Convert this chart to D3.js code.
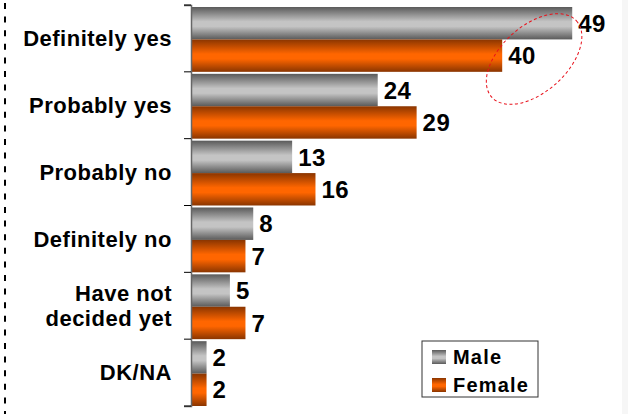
<!DOCTYPE html>
<html>
<head>
<meta charset="utf-8">
<script src="https://cdn.jsdelivr.net/npm/d3@7"></script>
<style>
  body { margin: 0; background: #fff; }
  svg { display: block; font-family: "Liberation Sans", Arial, sans-serif; font-weight: bold; }
</style>
</head>
<body>
<div id="chart"></div>
<script>
var categories = ["Definitely yes", "Probably yes", "Probably no", "Definitely no", "Have not decided yet", "DK/NA"];
var male = [49, 24, 13, 8, 5, 2];
var female = [40, 29, 16, 7, 7, 2];
var seriesNames = ["Male", "Female"];
var labelLines = { "Have not decided yet": ["Have not", "decided yet"] };

var width = 628, height = 414;
var svg = d3.select("#chart").append("svg").attr("width", width).attr("height", height);

var defs = svg.append("defs");
function barGrad(id, edge, mid) {
  var g = defs.append("linearGradient").attr("id", id).attr("x1", 0).attr("y1", 0).attr("x2", 0).attr("y2", 1);
  g.append("stop").attr("offset", "0%").attr("stop-color", edge);
  g.append("stop").attr("offset", "45%").attr("stop-color", mid);
  g.append("stop").attr("offset", "60%").attr("stop-color", mid);
  g.append("stop").attr("offset", "100%").attr("stop-color", edge);
}
barGrad("gMale", "#5a5a5a", "#c4c4c4");
barGrad("gFemale", "#8a3500", "#ff6600");
var fills = ["url(#gMale)", "url(#gFemale)"];

var data = categories.map((c, i) => ({ cat: c, values: [male[i], female[i]] }));

var x = d3.scaleLinear().domain([0, 50]).range([191, 580]);
var y = d3.scaleBand().domain(categories).range([5, 406]);
var ySub = d3.scaleBand().domain([0, 1]).range([2, y.bandwidth()]);

// left dashed border
svg.append("line")
  .attr("x1", 5).attr("x2", 5).attr("y1", 3).attr("y2", height)
  .attr("stroke", "#000").attr("stroke-width", 2).attr("stroke-dasharray", "6,7.6");

// faint right edge
svg.append("rect").attr("x", 622).attr("y", 0).attr("width", 6).attr("height", height)
  .attr("fill", "#f6f6f6");

var g = svg.selectAll(".cat").data(data).enter().append("g")
  .attr("transform", (d) => `translate(0,${y(d.cat)})`);

g.selectAll("rect").data((d) => d.values).enter().append("rect")
  .attr("x", x(0))
  .attr("y", (d, i) => ySub(i))
  .attr("width", (d) => x(d) - x(0))
  .attr("height", ySub.bandwidth())
  .attr("fill", (d, i) => fills[i]);

g.selectAll(".val").data((d) => d.values).enter().append("text")
  .attr("class", "val")
  .attr("x", (d) => x(d) + 6)
  .attr("y", (d, i) => ySub(i) + ySub.bandwidth() / 2)
  .attr("dy", "0.36em")
  .attr("font-size", 24)
  .attr("letter-spacing", 0.5)
  .attr("fill", "#000")
  .text((d) => d);

// category labels
g.append("text")
  .attr("text-anchor", "end")
  .attr("font-size", 22)
  .attr("letter-spacing", 0.5)
  .attr("fill", "#000")
  .each(function (d) {
    var lines = labelLines[d.cat] || [d.cat];
    var t = d3.select(this);
    var mid = y.bandwidth() / 2;
    lines.forEach((l, k) => {
      t.append("tspan")
        .attr("x", 172)
        .attr("y", mid + (k - (lines.length - 1) / 2) * 25)
        .attr("dy", "0.36em")
        .text(l);
    });
  });

// axis
var axis = svg.append("g").attr("transform", `translate(${x(0)},0)`)
  .call(d3.axisLeft(y).tickSize(7).tickFormat("").tickSizeOuter(7));
axis.select(".domain").attr("stroke", "#666").attr("stroke-width", 1.5);
axis.selectAll(".tick line").attr("stroke", "#000").attr("transform", `translate(0,${-y.bandwidth() / 2})`);
axis.append("line").attr("x1", -7).attr("x2", 0).attr("y1", 406).attr("y2", 406).attr("stroke", "#000");

// red ellipse annotation
svg.append("ellipse")
  .attr("cx", 0).attr("cy", 0).attr("rx", 57).attr("ry", 33)
  .attr("transform", `translate(${x(44.1)},${y(categories[0]) + 54}) rotate(-42)`)
  .attr("fill", "none")
  .attr("stroke", "#e8101a")
  .attr("stroke-width", 1)
  .attr("stroke-dasharray", "3,2.5");

// legend
var legend = svg.append("g").attr("transform", "translate(422,341)");
legend.append("rect").attr("width", 116).attr("height", 56)
  .attr("fill", "#fff").attr("stroke", "#333").attr("stroke-width", 1);
seriesNames.forEach((s, i) => {
  legend.append("rect").attr("x", 10).attr("y", 9 + i * 28).attr("width", 14).attr("height", 14)
    .attr("fill", fills[i]);
  legend.append("text").attr("x", 31).attr("y", 16 + i * 28).attr("dy", "0.36em")
    .attr("font-size", 20).attr("letter-spacing", 1.2).attr("fill", "#000").text(s);
});
</script>
</body>
</html>
